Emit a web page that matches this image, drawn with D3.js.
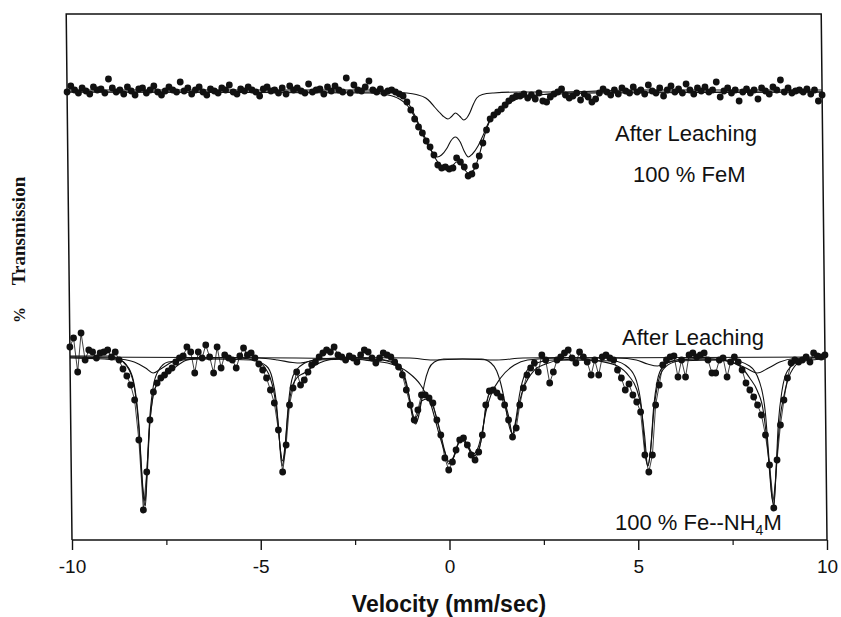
<!DOCTYPE html>
<html>
<head>
<meta charset="utf-8">
<script src="https://cdn.jsdelivr.net/npm/d3@7/dist/d3.min.js"></script>
<style>
  body { margin: 0; background: #fff; }
  svg { display: block; }
</style>
</head>
<body>
<div id="chart"></div>
<script>
// velocity channels (mm/sec): -10 .. 10, 0.1 apart
const velocityStart = -10;
const velocityStep = 0.1;
const xTicks = [-10, -5, 0, 5, 10];
const xMinorTicks = [-7.5, -2.5, 2.5, 7.5];

// upper spectrum (After Leaching, 100 % FeM): absorption below baseline, %
const feMDots = [
  0.2, -0.4, 0, 0.3, -0.2, 0.1, 0.4, -0.3, 0, -0.1,
  0.3, -1.1, -0.2, 0.2, 0, 0.4, -0.3, 0.1, 0.5, -0.1,
  -0.2, 0.3, 0, -0.4, 0.2, 0.5, 0.1, -0.3, 0, 0.2,
  -0.8, 0.1, -0.2, 0.4, 0, -0.3, 0.2, 0.5, -0.1, 0.1,
  0.3, -0.2, 0, -0.5, 0.2, 0.4, -0.1, 0.1, -0.3, 0,
  0.2, 0.6, -0.1, -0.3, 0.1, 0, 0.3, -0.2, 0.4, -0.4,
  0, -0.2, 0.1, 0.3, -0.6, 0.2, 0, -0.1, 0.4, -0.3,
  0.1, -0.4, 0, 0.2, -1.2, 0.3, -0.5, 0, 0.1, -0.3,
  -0.9, 0, 0.2, -0.1, 0.3, 0.1, 0, 0.2, 0.4, 0.6,
  1.2, 2.0, 2.9, 3.7, 4.3, 5.1, 5.7, 6.5, 7.5, 7.8,
  7.7, 7.9, 7.8, 6.8, 7.2, 7.7, 8.6, 8.4, 7.6, 6.6,
  5.3, 4.0, 2.9, 2.5, 2.2, 1.9, 1.5, 1.1, 0.8, 0.6,
  0.6, 0.4, 0.8, 0.5, 0.9, 0.3, 1.1, 1.2, 0.7, 0.4,
  0.2, -0.1, 0.5, 0.8, 0.6, 0.3, 1.0, 0.4, 0.7, 1.2,
  0.9, 0.3, -0.1, 0.2, 0.5, 0, 0.4, -0.2, 0.1, 0.3,
  -0.3, 0.2, 0, 0.4, -0.5, 0.1, 0.3, -0.2, 0.6, 0,
  -0.4, 0.2, -0.1, 0.3, -0.6, 0, 0.4, -0.2, 0.1, -0.3,
  0.2, 0, -0.8, 0.7, 0.1, -0.2, 0.3, 0, 1.1, 0.2,
  -0.1, 0.3, 0, 0.9, -0.2, 0.1, 0.4, -0.3, 0, -1.0,
  0.2, -0.2, 0.3, 0.1, 0, 0.2, -0.1, 0.4, 0, 1.1, 0.5
];

// fitted curves of the upper spectrum, [velocity, absorption %]
const feMFit = [[-10, 0], [-2, 0], [-1.5, 0.1], [-1.2, 0.5], [-1.0, 1.1], [-0.8, 2.5], [-0.6, 4.2],
  [-0.4, 5.8], [-0.2, 7.2], [0, 7.8], [0.15, 7.7], [0.3, 7.2], [0.45, 7.6], [0.6, 8.3], [0.75, 8.0],
  [0.9, 6.5], [1.05, 4.5], [1.2, 3.0], [1.4, 2.2], [1.6, 1.6], [1.8, 1.1], [2.0, 0.8], [2.5, 0.5],
  [3.0, 0.3], [4.0, 0.1], [5, 0], [10, 0]];
const feMNarrowDoublet = [[-10, 0.2], [-1.5, 0.2], [-1.0, 0.3], [-0.75, 0.45], [-0.5, 0.8], [-0.38, 1.2],
  [-0.27, 1.7], [-0.15, 2.2], [-0.05, 2.6], [0.08, 2.9], [0.18, 2.65], [0.28, 2.3], [0.4, 2.65],
  [0.5, 3.0], [0.58, 2.8], [0.66, 2.3], [0.75, 1.5], [0.85, 0.8], [1.0, 0.45], [1.3, 0.3], [2, 0.2], [10, 0.2]];
const feMBroadDoublet = [[-10, 0.2], [-2, 0.3], [-1.5, 0.5], [-1.2, 0.9], [-1.0, 1.5], [-0.8, 2.7],
  [-0.6, 4.4], [-0.45, 5.6], [-0.3, 6.4], [-0.21, 6.7], [-0.1, 6.5], [0.05, 5.8], [0.15, 5.1],
  [0.27, 4.7], [0.4, 5.2], [0.5, 6.1], [0.61, 6.7], [0.72, 6.4], [0.87, 5.6], [1.0, 4.6], [1.15, 3.3],
  [1.3, 2.4], [1.5, 1.7], [1.8, 1.0], [2.2, 0.6], [3, 0.4], [4, 0.3], [10, 0.2]];

// lower spectrum (After Leaching, 100 % Fe--NH4M): absorption below baseline, %
const feNH4Dots = [
  -0.9, -1.8, 1.6, -2.3, 0.4, -0.6, -0.4, 0.2, -0.3, -0.4,
  -0.6, 0.1, -0.4, 0.4, 1.3, 2.0, 2.9, 4.4, 8.4, 15.4,
  11.6, 6.4, 3.6, 2.7, 2.2, 1.9, 1.5, 1.2, 0.6, 0.2,
  0, -0.9, -0.4, 1.7, -0.4, 0.2, -1.1, 0.1, 1.7, -0.9,
  1.2, -0.1, 0.2, 0.4, 1.2, 0, -0.8, -0.1, -0.3, 0.2,
  0.8, 1.4, 2.2, 3.4, 4.7, 7.4, 11.6, 8.9, 4.9, 3.2,
  1.6, 2.9, 2.4, 1.6, 0.9, 0.6, 0.1, -0.3, -0.6, -0.4,
  -0.9, -0.1, 0.1, 0.4, 0, 0.2, 0.6, -0.1, -0.6, -0.4,
  0.2, 0.7, 0.2, -0.3, -0.1, 0.1, 0.6, 1.1, 1.9, 3.4,
  4.9, 6.4, 5.4, 3.9, 3.9, 4.2, 4.7, 6.4, 7.9, 10.2,
  11.4, 10.6, 9.4, 8.4, 8.2, 8.9, 9.9, 10.4, 9.6, 7.9,
  4.9, 3.5, 3.4, 3.7, 4.1, 4.9, 6.4, 8.1, 7.2, 4.9,
  3.2, 1.9, 1.2, 0.7, 1.6, -0.1, 0.4, 2.7, 1.6, 0.4,
  0.1, -0.3, -0.6, 0.2, 0.7, -0.4, 0.1, 0.6, 1.9, 0.4,
  1.9, 0.1, -0.1, 0.2, 0.4, 1.4, 2.2, 3.4, 2.8, 3.9,
  4.6, 5.6, 9.9, 11.6, 9.9, 4.9, 2.9, 0.9, 0.4, 0.1,
  0, 2.1, 0.4, 2.1, -0.1, -0.3, 0.1, -0.1, -0.3, 0.4,
  1.7, 1.7, 0.4, 0.2, 2.1, 0.6, 0.1, 0.6, 1.4, 2.7,
  3.4, 4.1, 4.9, 5.9, 7.9, 10.9, 15.2, 10.4, 6.9, 4.4,
  2.2, 0.7, 0.4, 0.6, 0.4, 0.1, 0.6, -0.3, 0, 0.1, -0.1
];

// fitted curves of the lower spectrum, [velocity, absorption %]
const feNH4Fit = [[-10, 0], [-9, 0], [-8.7, 0.3], [-8.5, 1.0], [-8.4, 1.7], [-8.3, 3.2], [-8.2, 7.0],
  [-8.1, 14.0], [-8.05, 15.0], [-8.0, 12.5], [-7.9, 6.5], [-7.8, 3.8], [-7.7, 2.8], [-7.5, 2.0],
  [-7.3, 1.4], [-7.1, 0.8], [-6.9, 0.4], [-6.5, 0.2], [-5.5, 0.2], [-5.0, 0.6], [-4.8, 1.4], [-4.7, 2.2],
  [-4.6, 3.8], [-4.5, 7.0], [-4.42, 11.0], [-4.35, 10.0], [-4.25, 6.0], [-4.15, 3.5], [-4.0, 2.2],
  [-3.8, 1.7], [-3.5, 0.9], [-3.0, 0.3], [-2.5, 0.2], [-2.0, 0.3], [-1.6, 0.5], [-1.3, 1.1], [-1.15, 2.2],
  [-1.0, 4.5], [-0.9, 6.2], [-0.82, 6.0], [-0.7, 4.5], [-0.55, 4.3], [-0.4, 5.0], [-0.25, 7.0],
  [-0.1, 9.5], [0, 10.8], [0.1, 10.4], [0.25, 8.8], [0.35, 8.4], [0.5, 9.0], [0.65, 10.0], [0.75, 9.8],
  [0.9, 7.8], [1.0, 5.2], [1.1, 3.8], [1.3, 3.6], [1.5, 4.6], [1.6, 6.0], [1.7, 7.8], [1.8, 6.5],
  [1.9, 4.5], [2.05, 2.8], [2.3, 1.4], [2.6, 0.8], [3.0, 0.4], [3.5, 0.3], [4.0, 0.5], [4.5, 1.0],
  [4.8, 2.0], [5.0, 3.3], [5.1, 4.8], [5.2, 8.0], [5.27, 11.0], [5.35, 9.5], [5.45, 5.5], [5.55, 3.0],
  [5.7, 1.4], [6.0, 0.6], [6.5, 0.3], [7.0, 0.3], [7.5, 0.6], [7.8, 1.2], [8.0, 2.2], [8.2, 3.5],
  [8.35, 5.5], [8.45, 9.0], [8.55, 14.0], [8.6, 15.0], [8.68, 11.0], [8.8, 6.0], [8.9, 4.0], [9.0, 2.5],
  [9.2, 1.0], [9.5, 0.3], [10, 0.1]];
const feNH4Sextet = [[-10, 0.2], [-8.7, 0.4], [-8.45, 1.2], [-8.3, 3.0], [-8.2, 6.5], [-8.1, 13.5],
  [-8.05, 14.5], [-8.0, 11.8], [-7.9, 6.0], [-7.8, 3.0], [-7.65, 1.4], [-7.4, 0.6], [-6.5, 0.3],
  [-5.2, 0.4], [-4.8, 1.0], [-4.65, 2.2], [-4.55, 4.5], [-4.45, 9.5], [-4.4, 10.5], [-4.33, 9.0],
  [-4.22, 4.5], [-4.1, 2.0], [-3.9, 1.0], [-3.5, 0.4], [-2, 0.3], [-1.4, 0.6], [-1.2, 1.4], [-1.05, 3.5],
  [-0.95, 6.0], [-0.87, 6.8], [-0.78, 6.0], [-0.72, 4.9], [-0.62, 2.8], [-0.5, 1.3], [-0.35, 0.6],
  [-0.1, 0.3], [0.9, 0.3], [1.15, 0.7], [1.3, 1.5], [1.4, 2.7], [1.5, 4.5], [1.6, 6.8], [1.7, 7.8],
  [1.8, 6.2], [1.9, 3.8], [2.05, 1.8], [2.3, 0.8], [2.8, 0.4], [4.4, 0.5], [4.8, 1.2], [5.0, 2.5],
  [5.12, 5.0], [5.22, 10.0], [5.28, 11.0], [5.35, 9.5], [5.45, 5.0], [5.55, 2.5], [5.7, 1.1], [6.0, 0.5],
  [7.5, 0.4], [8.0, 1.0], [8.25, 2.5], [8.4, 5.5], [8.5, 11.0], [8.57, 14.5], [8.65, 12.5], [8.75, 6.5],
  [8.85, 3.5], [9.0, 1.5], [9.3, 0.6], [10, 0.3]];
const feNH4BroadSextet = [[-10, 0.1], [-9, 0.2], [-8.7, 0.3], [-8.3, 0.6], [-8.0, 1.2], [-7.8, 1.7],
  [-7.6, 1.3], [-7.3, 0.6], [-7.0, 0.3], [-6, 0.15], [-5, 0.2], [-4.5, 0.4], [-4.1, 0.65], [-3.9, 0.7],
  [-3.6, 0.5], [-3.2, 0.25], [-2.5, 0.15], [-1.0, 0.2], [-0.4, 0.4], [0.4, 0.3], [1.3, 0.4], [2.0, 0.2],
  [3.0, 0.15], [4.5, 0.2], [5.0, 0.4], [5.3, 0.8], [5.56, 1.0], [5.8, 0.7], [6.2, 0.3], [7.0, 0.3],
  [7.6, 0.7], [7.9, 1.2], [8.2, 1.7], [8.5, 1.2], [8.8, 0.6], [9.2, 0.25], [10, 0.15]];
const feNH4Doublet = [[-10, 0.1], [-4, 0.2], [-2.5, 0.3], [-2.0, 0.5], [-1.59, 0.7], [-1.06, 1.6],
  [-0.72, 2.9], [-0.45, 4.9], [-0.26, 7.6], [-0.1, 9.6], [0.02, 10.6], [0.15, 10.0], [0.33, 8.2],
  [0.5, 8.8], [0.65, 9.8], [0.78, 9.2], [0.9, 7.5], [1.0, 5.6], [1.14, 3.9], [1.4, 2.2], [1.77, 0.9],
  [2.12, 0.4], [3, 0.2], [10, 0.1]];

const dims = { width: 841, height: 617 };
const plot = { left: 72, right: 827, top: 14, bottom: 540 };
const SANS = "'Liberation Sans', Arial, Helvetica, sans-serif";
const SERIF = "'Liberation Serif', 'Times New Roman', serif";
const DOT_R = 3.4;

const svg = d3.select("#chart").append("svg")
  .attr("width", dims.width)
  .attr("height", dims.height)
  .attr("viewBox", [0, 0, dims.width, dims.height]);

const xScale = d3.scaleLinear().domain([-10, 10]).range([plot.left, plot.right]);
// each spectrum gets its own absorption scale, 10 % = 100 px
const yUpper = d3.scaleLinear().domain([0, 10]).range([90, 190]);
const yLower = d3.scaleLinear().domain([0, 10]).range([356, 456]);

const toPoints = arr => arr.map((a, i) => [velocityStart + i * velocityStep, a]);

// the scanned frame leans a little, so shear everything about the bottom axis
const g = svg.append("g")
  .attr("transform", `translate(0,${plot.bottom}) skewX(0.63) translate(0,${-plot.bottom})`);

g.append("path")
  .attr("d", `M${plot.left},${plot.bottom}V${plot.top}H${plot.right}V${plot.bottom}`)
  .attr("fill", "none")
  .attr("stroke", "#111")
  .attr("stroke-width", 1.5);

function drawSpectrum(y, dots, fits, joinDots) {
  const fitLine = d3.line()
    .x(d => xScale(d[0]))
    .y(d => y(d[1]))
    .curve(d3.curveMonotoneX);

  fits.forEach(f => {
    g.append("path")
      .datum(f)
      .attr("d", fitLine)
      .attr("fill", "none")
      .attr("stroke", "#111")
      .attr("stroke-width", 1.1);
  });

  const pts = toPoints(dots);
  if (joinDots) {
    g.append("path")
      .datum(pts)
      .attr("d", d3.line().x(d => xScale(d[0])).y(d => y(d[1])))
      .attr("fill", "none")
      .attr("stroke", "#111")
      .attr("stroke-width", 0.8);
  }

  g.append("g")
    .selectAll("circle")
    .data(pts)
    .join("circle")
    .attr("cx", d => xScale(d[0]))
    .attr("cy", d => y(d[1]))
    .attr("r", DOT_R)
    .attr("fill", "#111");
}

drawSpectrum(yUpper, feMDots, [feMNarrowDoublet, feMBroadDoublet, feMFit], false);
drawSpectrum(yLower, feNH4Dots, [feNH4BroadSextet, feNH4Doublet, feNH4Sextet, feNH4Fit], true);

// bottom axis: labelled major ticks, short minor ticks
const xAxis = svg.append("g")
  .attr("transform", `translate(0,${plot.bottom})`)
  .call(d3.axisBottom(xScale).tickValues(xTicks).tickSize(10).tickPadding(10).tickFormat(d3.format("d")));
xAxis.select(".domain").remove();
xAxis.selectAll("line").attr("stroke", "#111").attr("stroke-width", 1.4);
xAxis.selectAll("text")
  .attr("font-family", SANS)
  .attr("font-size", 19)
  .attr("fill", "#111")
  .text(d => d < 0 ? "-" + Math.abs(d) : d);

const minorAxis = svg.append("g")
  .attr("transform", `translate(0,${plot.bottom})`)
  .call(d3.axisBottom(xScale).tickValues(xMinorTicks).tickSize(5).tickFormat(""));
minorAxis.select(".domain").remove();
minorAxis.selectAll("line").attr("stroke", "#111").attr("stroke-width", 1.2);

// bottom axis line
svg.append("line")
  .attr("x1", plot.left).attr("x2", plot.right)
  .attr("y1", plot.bottom).attr("y2", plot.bottom)
  .attr("stroke", "#111")
  .attr("stroke-width", 1.5);

svg.append("text")
  .attr("x", 449)
  .attr("y", 612)
  .attr("text-anchor", "middle")
  .attr("font-family", SANS)
  .attr("font-weight", "bold")
  .attr("font-size", 23)
  .attr("fill", "#111")
  .text("Velocity (mm/sec)");

// y label, serif bold, no ticks
svg.append("text")
  .attr("transform", "translate(25,231) rotate(-90)")
  .attr("text-anchor", "middle")
  .attr("font-family", SERIF)
  .attr("font-weight", "bold")
  .attr("font-size", 19)
  .attr("fill", "#111")
  .text("Transmission");
svg.append("text")
  .attr("transform", "translate(25,315) rotate(-90)")
  .attr("text-anchor", "middle")
  .attr("font-family", SERIF)
  .attr("font-weight", "bold")
  .attr("font-size", 16)
  .attr("fill", "#111")
  .text("%");

// spectrum annotations
const notes = [
  { x: 615, y: 141, text: "After Leaching" },
  { x: 633, y: 182, text: "100 % FeM" },
  { x: 622, y: 345, text: "After Leaching" }
];
svg.append("g")
  .selectAll("text")
  .data(notes)
  .join("text")
  .attr("x", d => d.x)
  .attr("y", d => d.y)
  .attr("font-family", SANS)
  .attr("font-size", 22)
  .attr("fill", "#111")
  .text(d => d.text);

const fe = svg.append("text")
  .attr("x", 615)
  .attr("y", 530)
  .attr("font-family", SANS)
  .attr("font-size", 22)
  .attr("fill", "#111");
fe.append("tspan").text("100 % Fe--NH");
fe.append("tspan").attr("dy", 5).attr("font-size", 14).text("4");
fe.append("tspan").attr("dy", -5).text("M");
</script>
</body>
</html>
